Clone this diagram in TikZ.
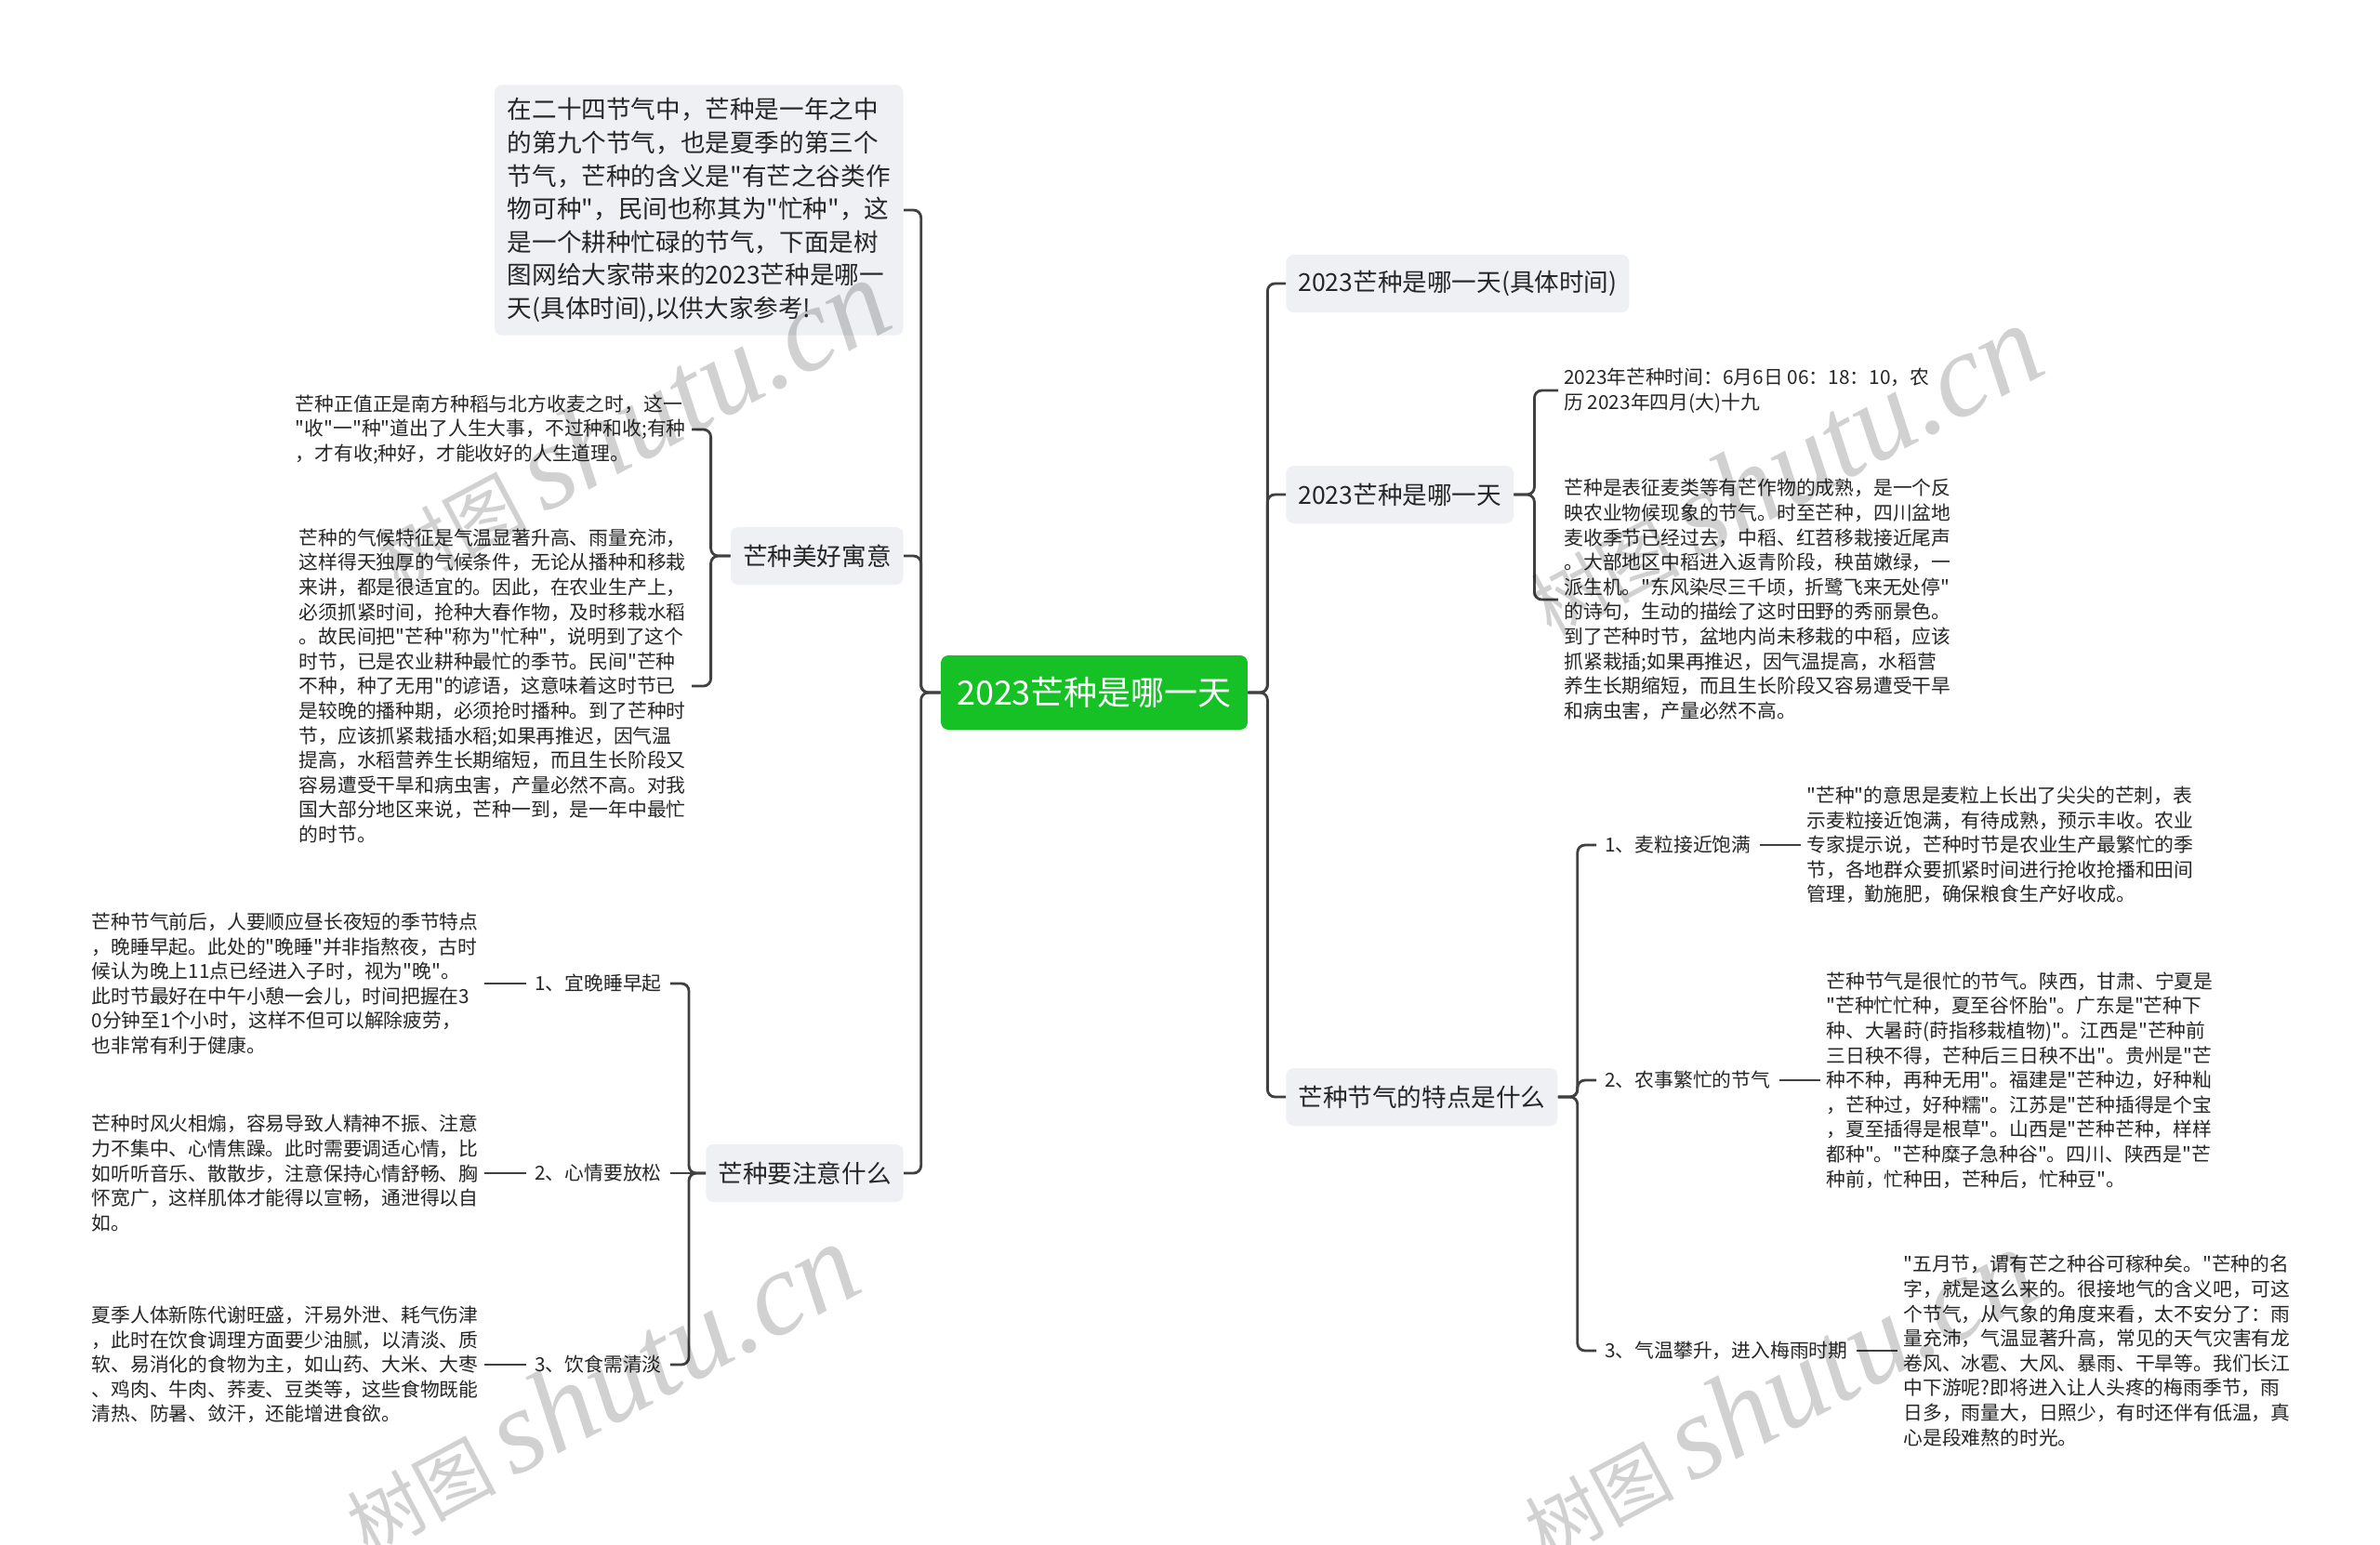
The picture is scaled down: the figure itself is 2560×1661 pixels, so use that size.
\documentclass[tikz,border=0pt]{standalone}
\usepackage{fontspec}
\setmainfont{Noto Sans CJK SC}[Ligatures=TeXOff]
\newfontfamily\wmlatin{Liberation Serif}
\definecolor{mzgreen}{HTML}{15C124}
\definecolor{mzbox}{HTML}{EEF0F3}
\definecolor{mzline}{HTML}{404040}
\definecolor{mztext}{HTML}{262626}
\begin{document}
\begin{tikzpicture}[x=0.5pt, y=-0.5pt,
  root/.style={fill=mzgreen, text=white, rounded corners=4pt, inner xsep=8.5pt, minimum height=40pt, font=\fontsize{18}{22}\selectfont},
  topic/.style={fill=mzbox, text=mztext, rounded corners=4pt, inner xsep=6.5pt, minimum height=31pt, font=\fontsize{13.3}{16}\selectfont},
  intro/.style={fill=mzbox, text=mztext, rounded corners=4pt, align=left, inner xsep=7pt, inner ysep=7pt, font=\fontsize{13.3}{17.8}\selectfont},
  sub/.style={text=mztext, inner xsep=4.5pt, inner ysep=1pt, font=\fontsize{10.4}{13}\selectfont},
  leaf/.style={text=mztext, align=left, inner xsep=3pt, inner ysep=0pt, font=\fontsize{10.4}{13.3}\selectfont},
  link/.style={draw=mzline, line width=1.4pt, rounded corners=4pt},
  wm/.style={rotate=28, text=black, text opacity=0.18, font=\fontsize{40}{40}\selectfont}]
\fill[white] (0,0) rectangle (2560,1661);
\useasboundingbox (0,0) rectangle (2560,1661);

% centre
\node[root] (root) at (1177,745) {2023芒种是哪一天};

% left branch
\node[intro, anchor=east] (intro) at (972,226) {在二十四节气中，芒种是一年之中\\的第九个节气，也是夏季的第三个\\节气，芒种的含义是"有芒之谷类作\\物可种"，民间也称其为"忙种"，这\\是一个耕种忙碌的节气，下面是树\\图网给大家带来的2023芒种是哪一\\天(具体时间),以供大家参考!};
\node[topic, anchor=east] (mean) at (972,598) {芒种美好寓意};
\node[topic, anchor=east] (care) at (972,1262) {芒种要注意什么};
\draw[link] (root.west) -- ++(-21,0) |- (intro.east);
\draw[link] (root.west) -- ++(-21,0) |- (mean.east);
\draw[link] (root.west) -- ++(-21,0) |- (care.east);

\node[leaf, anchor=east] (m1) at (744,462) {芒种正值正是南方种稻与北方收麦之时，这一\\"收"一"种"道出了人生大事，不过种和收;有种\\，才有收;种好，才能收好的人生道理。};
\node[leaf, anchor=east] (m2) at (744,738) {芒种的气候特征是气温显著升高、雨量充沛，\\这样得天独厚的气候条件，无论从播种和移栽\\来讲，都是很适宜的。因此，在农业生产上，\\必须抓紧时间，抢种大春作物，及时移栽水稻\\。故民间把"芒种"称为"忙种"，说明到了这个\\时节，已是农业耕种最忙的季节。民间"芒种\\不种，种了无用"的谚语，这意味着这时节已\\是较晚的播种期，必须抢时播种。到了芒种时\\节，应该抓紧栽插水稻;如果再推迟，因气温\\提高，水稻营养生长期缩短，而且生长阶段又\\容易遭受干旱和病虫害，产量必然不高。对我\\国大部分地区来说，芒种一到，是一年中最忙\\的时节。};
\draw[link] (mean.west) -- ++(-21,0) |- (m1.east);
\draw[link] (mean.west) -- ++(-21,0) |- (m2.east);

\node[sub, anchor=east] (l1) at (721,1058) {1、宜晚睡早起};
\node[sub, anchor=east] (l2) at (721,1262) {2、心情要放松};
\node[sub, anchor=east] (l3) at (721,1468) {3、饮食需清淡};
\draw[link] (care.west) -- ++(-18,0) |- (l1.east);
\draw[link] (care.west) -- (l2.east);
\draw[link] (care.west) -- ++(-18,0) |- (l3.east);

\node[leaf, anchor=east] (c1) at (521,1058) {芒种节气前后，人要顺应昼长夜短的季节特点\\，晚睡早起。此处的"晚睡"并非指熬夜，古时\\候认为晚上11点已经进入子时，视为"晚"。\\此时节最好在中午小憩一会儿，时间把握在3\\0分钟至1个小时，这样不但可以解除疲劳，\\也非常有利于健康。};
\node[leaf, anchor=east] (c2) at (521,1262) {芒种时风火相煽，容易导致人精神不振、注意\\力不集中、心情焦躁。此时需要调适心情，比\\如听听音乐、散散步，注意保持心情舒畅、胸\\怀宽广，这样肌体才能得以宣畅，通泄得以自\\如。};
\node[leaf, anchor=east] (c3) at (521,1468) {夏季人体新陈代谢旺盛，汗易外泄、耗气伤津\\，此时在饮食调理方面要少油腻，以清淡、质\\软、易消化的食物为主，如山药、大米、大枣\\、鸡肉、牛肉、荞麦、豆类等，这些食物既能\\清热、防暑、敛汗，还能增进食欲。};
\draw[link] (l1.west) -- (c1.east);
\draw[link] (l2.west) -- (c2.east);
\draw[link] (l3.west) -- (c3.east);

% right branch
\node[topic, anchor=west] (date) at (1383,305) {2023芒种是哪一天(具体时间)};
\node[topic, anchor=west] (when) at (1383,532) {2023芒种是哪一天};
\node[topic, anchor=west] (feat) at (1383,1180) {芒种节气的特点是什么};
\draw[link] (root.east) -- ++(21,0) |- (date.west);
\draw[link] (root.east) -- ++(21,0) |- (when.west);
\draw[link] (root.east) -- ++(21,0) |- (feat.west);

\node[leaf, anchor=west] (w1) at (1676,420) {2023年芒种时间：6月6日 06：18：10，农\\历 2023年四月(大)十九};
\node[leaf, anchor=west] (w2) at (1676,645) {芒种是表征麦类等有芒作物的成熟，是一个反\\映农业物候现象的节气。时至芒种，四川盆地\\麦收季节已经过去，中稻、红苕移栽接近尾声\\。大部地区中稻进入返青阶段，秧苗嫩绿，一\\派生机。"东风染尽三千顷，折鹭飞来无处停"\\的诗句，生动的描绘了这时田野的秀丽景色。\\到了芒种时节，盆地内尚未移栽的中稻，应该\\抓紧栽插;如果再推迟，因气温提高，水稻营\\养生长期缩短，而且生长阶段又容易遭受干旱\\和病虫害，产量必然不高。};
\draw[link] (when.east) -- ++(22,0) |- (w1.west);
\draw[link] (when.east) -- ++(22,0) |- (w2.west);

\node[sub, anchor=west] (f1) at (1717,909) {1、麦粒接近饱满};
\node[sub, anchor=west] (f2) at (1717,1162) {2、农事繁忙的节气};
\node[sub, anchor=west] (f3) at (1717,1453) {3、气温攀升，进入梅雨时期};
\draw[link] (feat.east) -- ++(21,0) |- (f1.west);
\draw[link] (feat.east) -- ++(21,0) |- (f2.west);
\draw[link] (feat.east) -- ++(21,0) |- (f3.west);

\node[leaf, anchor=west] (r1) at (1937,909) {"芒种"的意思是麦粒上长出了尖尖的芒刺，表\\示麦粒接近饱满，有待成熟，预示丰收。农业\\专家提示说，芒种时节是农业生产最繁忙的季\\节，各地群众要抓紧时间进行抢收抢播和田间\\管理，勤施肥，确保粮食生产好收成。};
\node[leaf, anchor=west] (r2) at (1958,1162) {芒种节气是很忙的节气。陕西，甘肃、宁夏是\\"芒种忙忙种，夏至谷怀胎"。广东是"芒种下\\种、大暑莳(莳指移栽植物)"。江西是"芒种前\\三日秧不得，芒种后三日秧不出"。贵州是"芒\\种不种，再种无用"。福建是"芒种边，好种籼\\，芒种过，好种糯"。江苏是"芒种插得是个宝\\，夏至插得是根草"。山西是"芒种芒种，样样\\都种"。"芒种糜子急种谷"。四川、陕西是"芒\\种前，忙种田，芒种后，忙种豆"。};
\node[leaf, anchor=west] (r3) at (2041,1453) {"五月节，谓有芒之种谷可稼种矣。"芒种的名\\字，就是这么来的。很接地气的含义吧，可这\\个节气，从气象的角度来看，太不安分了：雨\\量充沛，气温显著升高，常见的天气灾害有龙\\卷风、冰雹、大风、暴雨、干旱等。我们长江\\中下游呢?即将进入让人头疼的梅雨季节，雨\\日多，雨量大，日照少，有时还伴有低温，真\\心是段难熬的时光。};
\draw[link] (f1.east) -- (r1.west);
\draw[link] (f2.east) -- (r2.west);
\draw[link] (f3.east) -- (r3.west);

% watermarks
\node[wm] (wm1) at (678,457) {树图 {\wmlatin\itshape\fontsize{64}{64}\selectfont shutu.cn}};
\node[wm] (wm2) at (1918,506) {树图 {\wmlatin\itshape\fontsize{64}{64}\selectfont shutu.cn}};
\node[wm] (wm3) at (645,1494) {树图 {\wmlatin\itshape\fontsize{64}{64}\selectfont shutu.cn}};
\node[wm] (wm4) at (1912,1500) {树图 {\wmlatin\itshape\fontsize{64}{64}\selectfont shutu.cn}};
\end{tikzpicture}
\end{document}
